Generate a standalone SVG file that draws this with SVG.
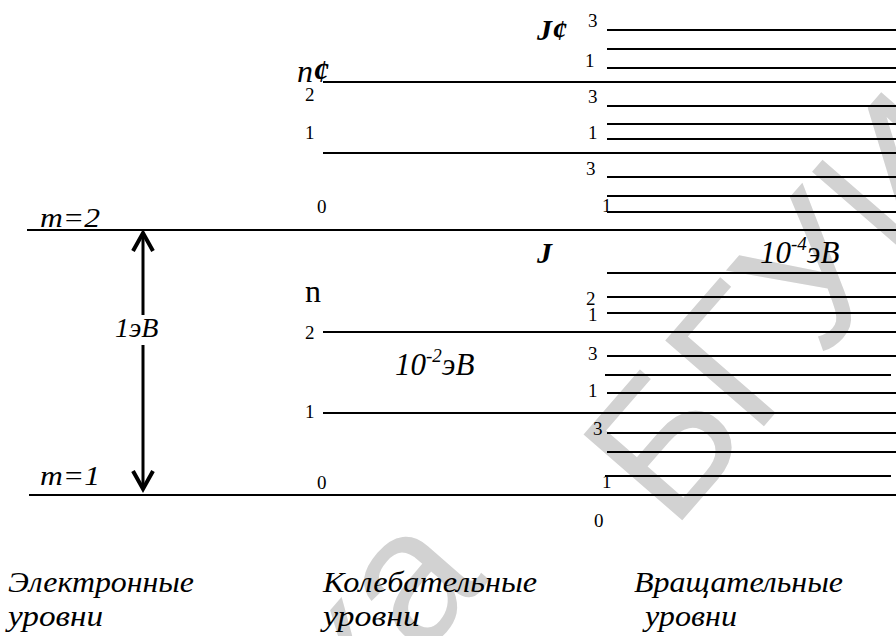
<svg xmlns="http://www.w3.org/2000/svg" width="896" height="636" viewBox="0 0 896 636">
<style>
.lv{stroke:#000;stroke-width:2;fill:none}
.num{font-family:"Liberation Serif","Times New Roman",serif;font-size:19px;fill:#000}
.it{font-family:"Liberation Serif","Times New Roman",serif;font-style:italic;fill:#000}
.bi{font-family:"Liberation Serif","Times New Roman",serif;font-style:italic;font-weight:bold;fill:#000}
.rm{font-family:"Liberation Serif","Times New Roman",serif;fill:#000}
.cap{font-family:"Liberation Serif","Times New Roman",serif;font-style:italic;font-size:30px;fill:#000}
.wm{font-family:"Liberation Sans",sans-serif;font-size:190px;fill:#d2d2d2}
</style>
<rect width="896" height="636" fill="#fff"/>
<g id="watermark">
<text class="wm" transform="translate(524,540) rotate(-49)" x="-53" y="0" text-anchor="end">Библиотека</text>
<text class="wm" transform="translate(672,532) rotate(-49)" x="0" y="0">БГУИР</text>
</g>
<g id="connectors">
<line class="lv" x1="143" y1="234" x2="143" y2="315" style="stroke-width:3"/>
<line class="lv" x1="143" y1="345" x2="143" y2="486" style="stroke-width:3"/>
<polyline points="133,251 143,233 153,251" style="fill:none;stroke:#000;stroke-width:4;stroke-linejoin:miter"/>
<polyline points="133,471 143,489 153,471" style="fill:none;stroke:#000;stroke-width:4;stroke-linejoin:miter"/>
</g>
<g id="electronic">
<line class="lv" x1="27" y1="230" x2="896" y2="230"/>
<line class="lv" x1="29" y1="495" x2="896" y2="495"/>
<text class="it" x="40" y="227" font-size="28" textLength="60" lengthAdjust="spacingAndGlyphs">m=2</text>
<text class="it" x="40" y="485" font-size="28" textLength="60" lengthAdjust="spacingAndGlyphs">m=1</text>
<text class="it" x="115" y="337" font-size="28">1эВ</text>
</g>
<g id="vibrational">
<line class="lv" x1="323" y1="82" x2="896" y2="82"/>
<line class="lv" x1="323" y1="153" x2="896" y2="153"/>
<line class="lv" x1="323" y1="332" x2="896" y2="332"/>
<line class="lv" x1="323" y1="413" x2="896" y2="413"/>
<text class="it" x="297" y="82" font-size="32">n<tspan class="bi">¢</tspan></text>
<text class="rm" x="305" y="302" font-size="32">n</text>
<text class="num" x="305" y="101">2</text>
<text class="num" x="305" y="139">1</text>
<text class="num" x="317" y="213">0</text>
<text class="num" x="305" y="339">2</text>
<text class="num" x="305" y="418">1</text>
<text class="num" x="317" y="489">0</text>
<text class="it" x="395" y="375" font-size="31">10<tspan font-size="19" dy="-13">-2</tspan><tspan dy="13">эВ</tspan></text>
</g>
<g id="rotational">
<line class="lv" x1="607" y1="30" x2="896" y2="30"/>
<line class="lv" x1="607" y1="49" x2="896" y2="49"/>
<line class="lv" x1="607" y1="68" x2="896" y2="68"/>
<line class="lv" x1="607" y1="106" x2="896" y2="106"/>
<line class="lv" x1="607" y1="124" x2="896" y2="124"/>
<line class="lv" x1="607" y1="139" x2="896" y2="139"/>
<line class="lv" x1="607" y1="177" x2="896" y2="177"/>
<line class="lv" x1="607" y1="196" x2="896" y2="196"/>
<line class="lv" x1="607" y1="212" x2="896" y2="212"/>
<line class="lv" x1="607" y1="273" x2="896" y2="273"/>
<line class="lv" x1="607" y1="297" x2="896" y2="297"/>
<line class="lv" x1="607" y1="313" x2="896" y2="313"/>
<line class="lv" x1="607" y1="356" x2="896" y2="356"/>
<line class="lv" x1="605" y1="375" x2="891" y2="375"/>
<line class="lv" x1="607" y1="393" x2="896" y2="393"/>
<line class="lv" x1="607" y1="433" x2="896" y2="433"/>
<line class="lv" x1="607" y1="452" x2="896" y2="452"/>
<line class="lv" x1="605" y1="476" x2="891" y2="476"/>
<text class="bi" x="537" y="40" font-size="30">J¢</text>
<text class="bi" x="537" y="263" font-size="30">J</text>
<text class="it" x="760" y="263" font-size="31">10<tspan font-size="19" dy="-13">-4</tspan><tspan dy="13">эВ</tspan></text>
<text class="num" x="588" y="27">3</text>
<text class="num" x="585" y="67">1</text>
<text class="num" x="588" y="103">3</text>
<text class="num" x="588" y="139">1</text>
<text class="num" x="586" y="175">3</text>
<text class="num" x="602" y="212">1</text>
<text class="num" x="586" y="305">2</text>
<text class="num" x="588" y="321">1</text>
<text class="num" x="588" y="360">3</text>
<text class="num" x="588" y="397">1</text>
<text class="num" x="593" y="435">3</text>
<text class="num" x="602" y="488">1</text>
<text class="num" x="594" y="527">0</text>
</g>
<g id="captions">
<text class="cap" x="8" y="592" textLength="186" lengthAdjust="spacingAndGlyphs">Электронные</text>
<text class="cap" x="8" y="626" textLength="95" lengthAdjust="spacingAndGlyphs">уровни</text>
<text class="cap" x="323" y="592" textLength="214" lengthAdjust="spacingAndGlyphs">Колебательные</text>
<text class="cap" x="323" y="626" textLength="97" lengthAdjust="spacingAndGlyphs">уровни</text>
<text class="cap" x="634" y="592" textLength="209" lengthAdjust="spacingAndGlyphs">Вращательные</text>
<text class="cap" x="645" y="626" textLength="92" lengthAdjust="spacingAndGlyphs">уровни</text>
</g>
</svg>
